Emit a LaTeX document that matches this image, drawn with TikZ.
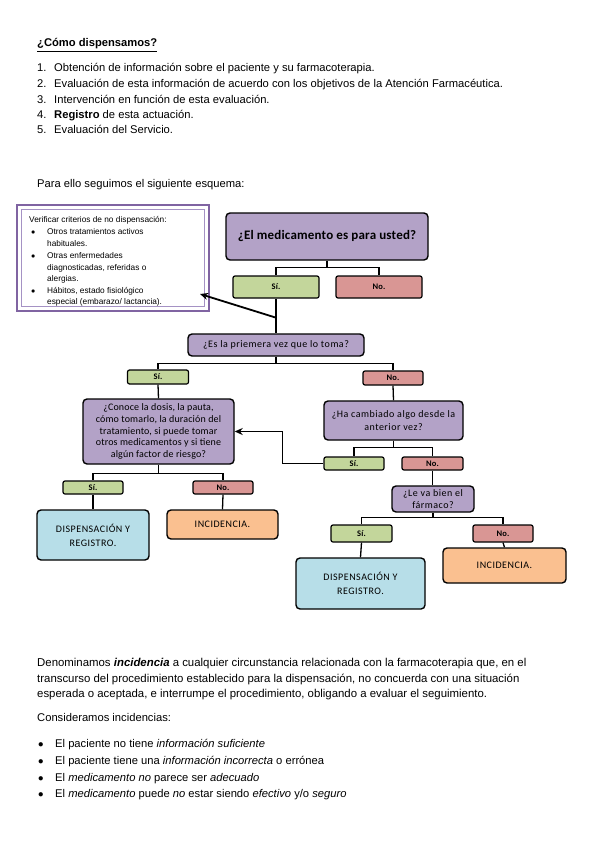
\documentclass[tikz,border=0pt]{standalone}
\usepackage{fontspec}
\setmainfont{Liberation Sans}
\newfontfamily\calib[LetterSpace=5]{Carlito}
\newfontfamily\calibn[LetterSpace=1.5]{Carlito}
\usetikzlibrary{arrows.meta,calc}
\definecolor{qpurple}{HTML}{B3A2C7}
\definecolor{ygreen}{HTML}{C3D69B}
\definecolor{npink}{HTML}{D99694}
\definecolor{dblue}{HTML}{B7DEE8}
\definecolor{iorange}{HTML}{FAC090}
\definecolor{framepurple}{HTML}{8064A2}
\definecolor{framelight}{HTML}{A592C4}
\tikzset{
  txt/.style={anchor=base west,inner sep=0pt,font=\fontsize{11.2}{13}\selectfont},
  ptxt/.style={anchor=base west,inner sep=0pt,font=\fontsize{11.4}{13}\selectfont},
  small/.style={anchor=base west,inner sep=0pt,font=\fontsize{8.3}{10}\selectfont},
  fbox/.style={draw=black,line width=1.4pt,rounded corners=4pt,inner sep=0pt,align=center,text=black},
  qbox/.style={fbox,fill=qpurple,font=\calib\fontsize{10}{12}\selectfont},
  ybox/.style={fbox,fill=ygreen,rounded corners=2pt,line width=1.2pt,font=\calibn\bfseries\fontsize{8.5}{9}\selectfont},
  nbox/.style={fbox,fill=npink,rounded corners=2pt,line width=1.2pt,font=\calibn\bfseries\fontsize{8.5}{9}\selectfont},
  dbox/.style={fbox,fill=dblue,font=\calib\fontsize{10}{14}\selectfont},
  ibox/.style={fbox,fill=iorange,font=\calib\fontsize{10}{12}\selectfont},
  conn/.style={draw=black,line width=1.3pt},
  arr/.style={draw=black,line width=1.8pt,-{Stealth[length=8pt,width=7pt]}},
  sz/.style args={#1x#2}{minimum width=#1pt,minimum height=#2pt}
}
\begin{document}
\begin{tikzpicture}[x=1pt,y=-1pt]
\useasboundingbox[fill=white] (0,0) rectangle (599,848);
% header text
\node[txt,font=\bfseries\fontsize{11.2}{13}\selectfont] (title) at (37,47) {\underline{¿Cómo dispensamos?}};
\node[txt] (l1n) at (37,72) {1.};
\node[txt] (l1) at (54,72) {Obtención de información sobre el paciente y su farmacoterapia.};
\node[txt] (l2n) at (37,87.5) {2.};
\node[txt] (l2) at (54,87.5) {Evaluación de esta información de acuerdo con los objetivos de la Atención Farmacéutica.};
\node[txt] (l3n) at (37,103) {3.};
\node[txt] (l3) at (54,103) {Intervención en función de esta evaluación.};
\node[txt] (l4n) at (37,118.5) {4.};
\node[txt] (l4) at (54,118.5) {\textbf{Registro} de esta actuación.};
\node[txt] (l5n) at (37,134) {5.};
\node[txt] (l5) at (54,134) {Evaluación del Servicio.};
\node[txt] (para) at (37,187) {Para ello seguimos el siguiente esquema:};

% criteria box
\draw[draw=framepurple,line width=2.6pt] (17,205) rectangle (209,311);
\draw[draw=framelight,line width=0.8pt] (21.5,209.5) rectangle (204.5,306.5);
\node[small] (cv) at (29,222) {Verificar criterios de no dispensación:};
\node[small] (cb1) at (31,234) {$\bullet$};
\node[small] (c1a) at (47,234) {Otros tratamientos activos};
\node[small] (c1b) at (47,246) {habituales.};
\node[small] (cb2) at (31,258) {$\bullet$};
\node[small] (c2a) at (47,258) {Otras enfermedades};
\node[small] (c2b) at (47,270) {diagnosticadas, referidas o};
\node[small] (c2c) at (47,281) {alergias.};
\node[small] (cb3) at (31,293) {$\bullet$};
\node[small] (c3a) at (47,293) {Hábitos, estado fisiológico};
\node[small] (c3b) at (47,304) {especial (embarazo/ lactancia).};
\coordinate (crit) at (200,294);

% flowchart nodes
\node[qbox,sz=202x47,font=\calibn\bfseries\fontsize{13}{15}\selectfont] (main) at (327,236.5) {¿El medicamento es para usted?};
\node[ybox,sz=86x22] (s1) at (276,287) {Sí.};
\node[nbox,sz=86x22] (n1) at (379,287) {No.};
\node[qbox,sz=176x22] (prim) at (276,345) {¿Es la priemera vez que lo toma?};
\node[ybox,sz=61x14] (s2) at (158,377) {Sí.};
\node[nbox,sz=60x14] (n2) at (393,378) {No.};
\node[qbox,sz=151x65,font=\calibn\fontsize{10}{11.6}\selectfont] (conoce) at (158.5,431.5) {¿Conoce la dosis, la pauta,\\cómo tomarlo, la duración del\\tratamiento, si puede tomar\\otros medicamentos y si tiene\\algún factor de riesgo?};
\node[qbox,sz=139x39,font=\calib\fontsize{10}{13}\selectfont] (cambio) at (393.5,420.5) {¿Ha cambiado algo desde la\\anterior vez?};
\node[ybox,sz=60x13] (s3) at (354,463.5) {Sí.};
\node[nbox,sz=61x13] (n3) at (432.5,463.5) {No.};
\node[qbox,sz=82x26,font=\calib\fontsize{10}{11.5}\selectfont] (leva) at (433,499) {¿Le va bien el\\fármaco?};
\node[ybox,sz=60x13] (s4) at (93,487.5) {Sí.};
\node[nbox,sz=60x13] (n4) at (223,487.5) {No.};
\node[dbox,sz=112x50] (disp1) at (93,535) {DISPENSACIÓN Y\\REGISTRO.};
\node[ibox,sz=111x29] (inc1) at (222.5,524.5) {INCIDENCIA.};
\node[ybox,sz=61x17] (s5) at (361.5,533.5) {Sí.};
\node[nbox,sz=60x17] (n5) at (503,533.5) {No.};
\node[dbox,sz=129x51] (disp2) at (360.5,583.5) {DISPENSACIÓN Y\\REGISTRO.};
\node[ibox,sz=123x35] (inc2) at (504.5,565.5) {INCIDENCIA.};

% connectors
\draw[conn] (main.south) -- ++(0,7) coordinate (j1) -| (s1.north);
\draw[conn] (j1) -| (n1.north);
\draw[conn] (s1.south) -- (prim.north);
\coordinate (dg) at ($(s1.south)!0.55!(prim.north)$);
\draw[arr] (dg) -- (crit);
\draw[conn] (prim.south) -- ++(0,7) coordinate (j2) -| (s2.north);
\draw[conn] (j2) -| (n2.north);
\draw[conn] (s2.south) -- (conoce.north);
\draw[conn] (n2.south) -- (cambio.north);
\draw[conn] (conoce.south) -- ++(0,8.5) coordinate (j3) -| (s4.north);
\draw[conn] (j3) -| (n4.north);
\draw[conn] (s4.south) -- (disp1.north);
\draw[conn] (n4.south) -- (inc1.north);
\draw[conn] (cambio.south) -- ++(0,7) coordinate (j4) -| (s3.north);
\draw[conn] (j4) -| (n3.north);
\draw[arr] (s3.west) -- ++(-41,0) |- (conoce.east);
\draw[conn] (n3.south) -- (n3.south |- leva.north);
\draw[conn] (leva.south) -- ++(0,5) coordinate (j5) -| (s5.north);
\draw[conn] (j5) -| (n5.north);
\draw[conn] (s5.south) -- (disp2.north);
\draw[conn] (n5.south) -- (inc2.north);

% bottom text
\node[ptxt] (p1) at (37,666) {Denominamos \textbf{\textit{incidencia}} a cualquier circunstancia relacionada con la farmacoterapia que, en el};
\node[ptxt] (p2) at (37,682) {transcurso del procedimiento establecido para la dispensación, no concuerda con una situación};
\node[ptxt] (p3) at (37,697.5) {esperada o aceptada, e interrumpe el procedimiento, obligando a evaluar el seguimiento.};
\node[txt] (cons) at (37,721) {Consideramos incidencias:};
\node[txt] (b1d) at (38,747) {$\bullet$};
\node[txt] (b1) at (55,747) {El paciente no tiene \textit{información suficiente}};
\node[txt] (b2d) at (38,764) {$\bullet$};
\node[txt] (b2) at (55,764) {El paciente tiene una \textit{información incorrecta} o errónea};
\node[txt] (b3d) at (38,781) {$\bullet$};
\node[txt] (b3) at (55,781) {El \textit{medicamento no} parece ser \textit{adecuado}};
\node[txt] (b4d) at (38,797.5) {$\bullet$};
\node[txt] (b4) at (55,797.5) {El \textit{medicamento} puede \textit{no} estar siendo \textit{efectivo} y/o \textit{seguro}};
\end{tikzpicture}
\end{document}
